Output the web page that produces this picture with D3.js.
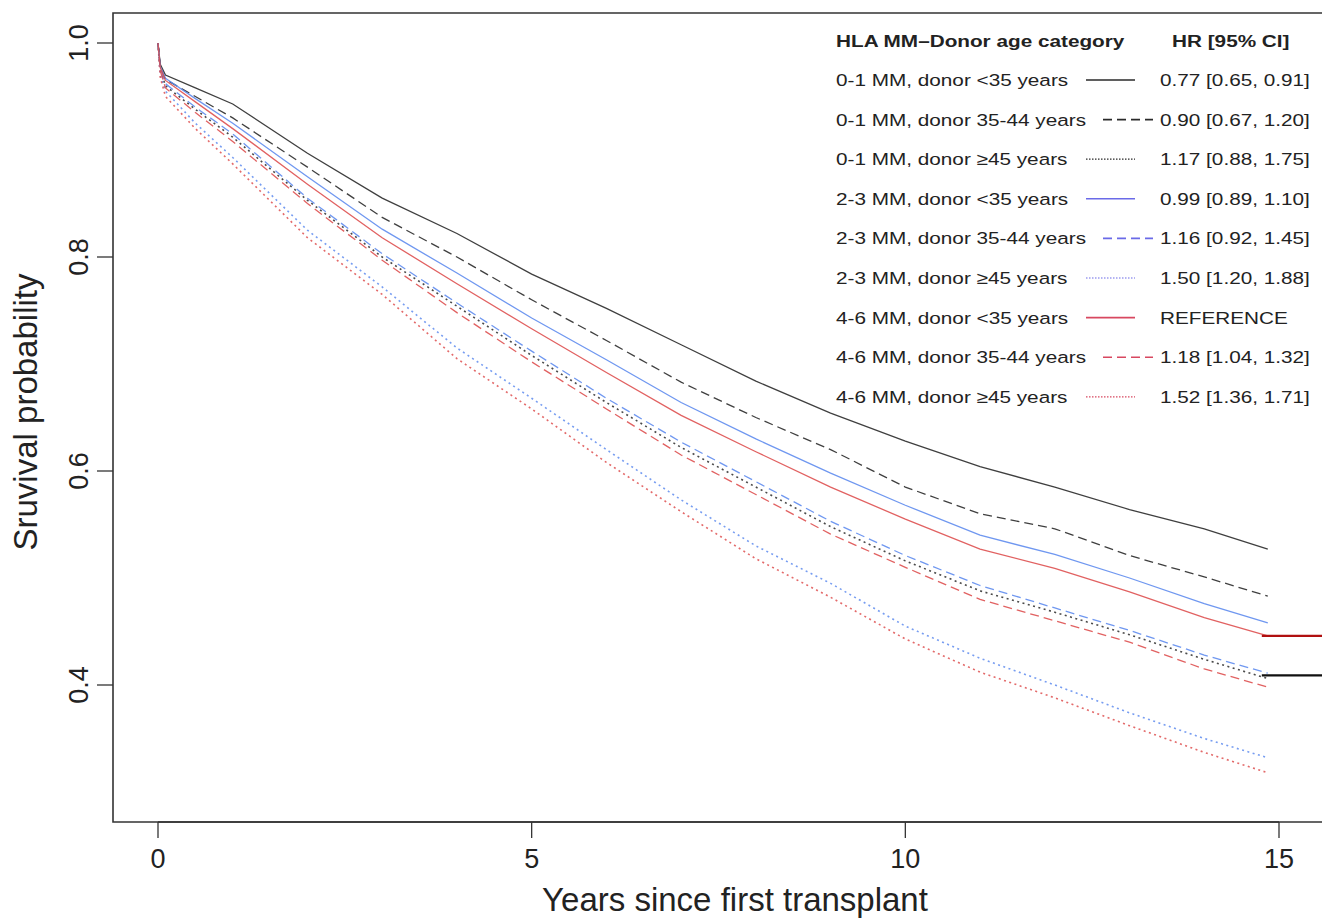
<!DOCTYPE html>
<html>
<head>
<meta charset="utf-8">
<script src="https://cdn.jsdelivr.net/npm/d3@7"></script>
<style>
  html, body { margin: 0; padding: 0; background: #fff; }
  svg { display: block; }
  text { font-family: "Liberation Sans", Arial, Helvetica, sans-serif; fill: #222; }
</style>
</head>
<body>
<svg id="chart" width="1322" height="919"></svg>
<script>
// ---- Data ----
const times = [0, 0.03, 0.1, 0.5, 1, 2, 3, 4, 5, 6, 7, 8, 9, 10, 11, 12, 13, 14, 14.85];

const mm01_lt35   = [1.0, 0.980, 0.970, 0.958, 0.943, 0.897, 0.855, 0.822, 0.784, 0.752, 0.718, 0.684, 0.654, 0.628, 0.604, 0.585, 0.564, 0.546, 0.527];
const mm01_35to44 = [1.0, 0.978, 0.966, 0.950, 0.930, 0.884, 0.837, 0.800, 0.760, 0.722, 0.683, 0.650, 0.620, 0.585, 0.560, 0.546, 0.521, 0.501, 0.483];
const mm01_ge45   = [1.0, 0.975, 0.960, 0.938, 0.912, 0.853, 0.800, 0.754, 0.708, 0.664, 0.622, 0.585, 0.548, 0.516, 0.488, 0.468, 0.447, 0.424, 0.406];
const mm23_lt35   = [1.0, 0.978, 0.967, 0.948, 0.925, 0.875, 0.826, 0.785, 0.743, 0.704, 0.664, 0.630, 0.598, 0.568, 0.540, 0.522, 0.500, 0.476, 0.458];
const mm23_35to44 = [1.0, 0.976, 0.962, 0.940, 0.915, 0.855, 0.803, 0.757, 0.712, 0.668, 0.627, 0.590, 0.553, 0.521, 0.493, 0.472, 0.451, 0.428, 0.411];
const mm23_ge45   = [1.0, 0.970, 0.955, 0.925, 0.893, 0.825, 0.772, 0.715, 0.668, 0.620, 0.573, 0.530, 0.495, 0.455, 0.425, 0.400, 0.374, 0.350, 0.332];
const mm46_lt35   = [1.0, 0.977, 0.965, 0.945, 0.920, 0.868, 0.818, 0.775, 0.733, 0.692, 0.652, 0.618, 0.585, 0.555, 0.527, 0.509, 0.487, 0.463, 0.446];
const mm46_35to44 = [1.0, 0.974, 0.958, 0.935, 0.908, 0.850, 0.797, 0.748, 0.702, 0.658, 0.615, 0.578, 0.541, 0.510, 0.480, 0.460, 0.440, 0.415, 0.398];
const mm46_ge45   = [1.0, 0.968, 0.950, 0.920, 0.887, 0.818, 0.765, 0.705, 0.658, 0.608, 0.562, 0.518, 0.482, 0.443, 0.412, 0.388, 0.362, 0.337, 0.318];

const seriesLabels = [
  "0-1 MM, donor <35 years", "0-1 MM, donor 35-44 years", "0-1 MM, donor \u226545 years",
  "2-3 MM, donor <35 years", "2-3 MM, donor 35-44 years", "2-3 MM, donor \u226545 years",
  "4-6 MM, donor <35 years", "4-6 MM, donor 35-44 years", "4-6 MM, donor \u226545 years"
];
const hrLabels = [
  "0.77 [0.65, 0.91]", "0.90 [0.67, 1.20]", "1.17 [0.88, 1.75]",
  "0.99 [0.89, 1.10]", "1.16 [0.92, 1.45]", "1.50 [1.20, 1.88]",
  "REFERENCE", "1.18 [1.04, 1.32]", "1.52 [1.36, 1.71]"
];
const seriesValues = [mm01_lt35, mm01_35to44, mm01_ge45, mm23_lt35, mm23_35to44, mm23_ge45, mm46_lt35, mm46_35to44, mm46_ge45];

const xTicks = [0, 5, 10, 15];
const yTicks = [0.4, 0.6, 0.8, 1.0];
const markerLines = [0.446, 0.409];   // horizontal marks at right edge
const markerStart = 14.77;

// ---- Styles ----
const groupColors = ["#2a2a2a", "#5f8cee", "#de5050"];
const legendColors = ["#2a2a2a", "#6a6ae8", "#d84860"];
const dashes = [null, "9,5", "2,3.5"];
const markerColors = ["#b01010", "#111"];

const svg = d3.select("#chart");
const x = d3.scaleLinear().domain([0, 15]).range([158, 1279]);
const y = d3.scaleLinear().domain([0.4, 1.0]).range([685, 43]);

// plot frame
const frameLeft = 113, frameTop = 13, frameBottom = 822;
svg.append("path")
  .attr("d", `M1330,${frameTop} L${frameLeft},${frameTop} L${frameLeft},${frameBottom} L1330,${frameBottom}`)
  .attr("fill", "none").attr("stroke", "#333").attr("stroke-width", 1.6);

// curves
const line = d3.line().x(d => x(d[0])).y(d => y(d[1]));
const order = [2, 5, 8, 1, 4, 7, 0, 3, 6];
order.forEach(i => {
  const pts = times.map((t, k) => [t, seriesValues[i][k]]);
  const g = Math.floor(i / 3), s = i % 3;
  svg.append("path")
    .attr("d", line(pts))
    .attr("fill", "none")
    .attr("stroke", groupColors[g])
    .attr("stroke-width", s === 2 ? 1.6 : 1.3)
    .attr("stroke-dasharray", dashes[s])
    .attr("opacity", s === 2 ? 0.85 : 0.9);
});

// right-edge horizontal marks
markerLines.forEach((v, i) => {
  svg.append("line")
    .attr("x1", x(markerStart)).attr("x2", 1322)
    .attr("y1", y(v)).attr("y2", y(v))
    .attr("stroke", markerColors[i]).attr("stroke-width", 2.2);
});

// x axis
const xAxis = svg.append("g");
xAxis.append("line").attr("x1", x(0)).attr("x2", x(15)).attr("y1", frameBottom).attr("y2", frameBottom)
  .attr("stroke", "#333").attr("stroke-width", 1.6);
xTicks.forEach(t => {
  xAxis.append("line").attr("x1", x(t)).attr("x2", x(t)).attr("y1", frameBottom).attr("y2", 838)
    .attr("stroke", "#333").attr("stroke-width", 1.3);
  xAxis.append("text").attr("x", x(t)).attr("y", 868).attr("text-anchor", "middle")
    .attr("font-size", 27).text(d3.format("d")(t));
});
svg.append("text").attr("x", 735).attr("y", 911).attr("text-anchor", "middle")
  .attr("font-size", 33).text("Years since first transplant");

// y axis
yTicks.forEach(v => {
  svg.append("line").attr("x1", 97).attr("x2", frameLeft).attr("y1", y(v)).attr("y2", y(v))
    .attr("stroke", "#333").attr("stroke-width", 1.3);
  svg.append("text").attr("transform", `translate(88,${y(v)}) rotate(-90)`)
    .attr("text-anchor", "middle").attr("font-size", 27).text(d3.format(".1f")(v));
});
svg.append("text").attr("transform", `translate(37,412) rotate(-90)`)
  .attr("text-anchor", "middle").attr("font-size", 33).text("Sruvival probability");

// legend
const lg = svg.append("g");
const sx = 1.22, fs = 17;
lg.append("text").attr("transform", `translate(836,47) scale(${sx},1)`)
  .attr("font-size", fs).attr("font-weight", "bold").text("HLA MM\u2013Donor age category");
lg.append("text").attr("transform", `translate(1172,47) scale(${sx},1)`)
  .attr("font-size", fs).attr("font-weight", "bold").text("HR [95% CI]");
seriesLabels.forEach((lab, i) => {
  const cy = 80 + i * 39.6;
  const g = Math.floor(i / 3), s = i % 3;
  lg.append("text").attr("transform", `translate(836,${cy + 6}) scale(${sx},1)`)
    .attr("font-size", fs).text(lab);
  lg.append("text").attr("transform", `translate(1160,${cy + 6}) scale(${sx},1)`)
    .attr("font-size", fs).text(hrLabels[i]);
  const x1 = s === 1 ? 1103 : 1086, x2 = s === 1 ? 1153 : 1135;
  lg.append("line").attr("x1", x1).attr("x2", x2).attr("y1", cy).attr("y2", cy)
    .attr("stroke", legendColors[g]).attr("stroke-width", s === 2 ? 1.2 : 1.6)
    .attr("stroke-dasharray", s === 1 ? "9,5" : (s === 2 ? "1.5,1.5" : null));
});
</script>
</body>
</html>
